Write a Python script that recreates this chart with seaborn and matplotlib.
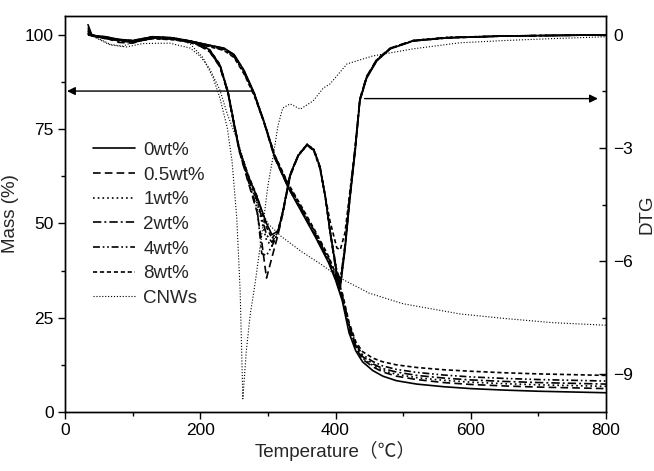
import matplotlib
matplotlib.use("Agg")
import matplotlib.pyplot as plt
from matplotlib.ticker import MultipleLocator
import seaborn as sns

# ---- data (temperature in deg C) ----
samples = ["0wt%", "0.5wt%", "1wt%", "2wt%", "4wt%", "8wt%", "CNWs"]

# TGA (mass %) of the composites
temp_tga = [34, 50, 70, 100, 130, 160, 190, 215, 235, 250, 265, 280, 295, 310, 330, 350,
            370, 390, 400, 410, 420, 430, 440, 455, 470, 490, 520, 560, 600, 650, 700, 750, 800]
mass_0 = [100.3, 99.6, 99.0, 98.3, 99.3, 99.0, 98.2, 97.2, 96.5, 94.8, 90.5, 84.5, 76.5, 67.5, 59.5, 53.0,
          46.5, 39.5, 35.0, 29.5, 21.0, 16.2, 13.3, 11.0, 9.5, 8.3, 7.4, 6.7, 6.2, 5.8, 5.5, 5.3, 5.1]
mass_05 = [100.2, 99.4, 98.7, 98.0, 99.1, 98.9, 98.1, 97.1, 96.3, 94.6, 90.3, 84.2, 76.3, 67.4, 59.6, 53.2,
           46.8, 39.8, 35.4, 30.0, 22.0, 17.0, 14.0, 12.0, 10.6, 9.5, 8.6, 7.8, 7.3, 6.9, 6.6, 6.4, 6.2]
mass_1 = [100.2, 99.5, 98.9, 98.4, 99.2, 99.0, 98.2, 97.2, 96.4, 94.7, 90.4, 84.4, 76.6, 67.8, 59.9, 53.5,
          47.0, 40.0, 35.6, 30.3, 22.5, 17.3, 14.3, 12.4, 11.0, 10.0, 9.1, 8.4, 7.9, 7.5, 7.2, 7.0, 6.8]
mass_2 = [100.1, 99.5, 98.8, 98.2, 99.2, 98.9, 98.1, 97.0, 96.2, 94.5, 90.2, 84.3, 76.7, 68.0, 60.1, 53.7,
          47.2, 40.3, 35.9, 30.6, 23.0, 17.6, 14.7, 12.8, 11.5, 10.6, 9.7, 9.0, 8.5, 8.1, 7.8, 7.6, 7.4]
mass_4 = [100.1, 99.4, 98.8, 98.3, 99.1, 98.8, 98.0, 96.9, 96.0, 94.2, 89.8, 84.0, 76.5, 68.0, 60.3, 54.0,
          47.6, 40.7, 36.3, 31.0, 23.3, 18.0, 15.2, 13.4, 12.2, 11.3, 10.5, 9.8, 9.3, 8.9, 8.6, 8.4, 8.2]
mass_8 = [100.0, 99.3, 98.7, 98.1, 99.0, 98.7, 97.9, 96.8, 95.9, 94.0, 89.6, 83.8, 76.4, 68.2, 60.6, 54.4,
          48.0, 41.2, 36.8, 31.6, 23.8, 18.6, 16.0, 14.3, 13.3, 12.5, 11.8, 11.2, 10.8, 10.4, 10.1, 9.9, 9.7]

# DTG of the composites
temp_dtg = [34, 40, 60, 80, 100, 130, 160, 185, 200, 214, 229, 241, 250, 258, 270, 284, 291, 298, 306,
            315, 322, 333, 345, 358, 368, 377, 385, 392, 402, 407, 414, 421, 429, 436, 446, 461, 481,
            515, 565, 650, 800]
dtg_0 = [0.27, -0.02, -0.05, -0.12, -0.15, -0.05, -0.08, -0.16, -0.25, -0.40, -0.80, -1.52, -2.35, -3.05,
         -3.70, -4.30, -4.65, -5.00, -5.30, -5.20, -4.70, -3.70, -3.20, -2.90, -3.05, -3.50, -4.30, -5.20,
         -6.35, -6.70, -5.70, -4.40, -3.10, -1.75, -1.15, -0.69, -0.37, -0.16, -0.08, -0.03, 0.00]
dtg_05 = [0.20, -0.03, -0.08, -0.20, -0.22, -0.06, -0.10, -0.20, -0.30, -0.45, -0.85, -1.55, -2.40, -3.10,
          -3.85, -4.70, -5.50, -6.45, -5.90, -5.30, -4.75, -3.75, -3.20, -2.92, -3.05, -3.50, -4.30, -5.25,
          -6.40, -6.60, -5.60, -4.30, -3.00, -1.70, -1.10, -0.65, -0.35, -0.15, -0.07, -0.03, 0.00]
dtg_1 = [0.15, -0.02, -0.06, -0.15, -0.18, -0.05, -0.09, -0.18, -0.28, -0.42, -0.82, -1.53, -2.38, -3.08,
         -3.78, -4.45, -4.95, -5.45, -5.60, -5.25, -4.72, -3.72, -3.18, -2.90, -3.03, -3.48, -4.28, -5.22,
         -6.38, -6.70, -5.65, -4.35, -3.05, -1.72, -1.12, -0.67, -0.36, -0.15, -0.07, -0.03, 0.00]
dtg_2 = [0.12, -0.02, -0.05, -0.14, -0.16, -0.05, -0.08, -0.17, -0.27, -0.41, -0.81, -1.52, -2.36, -3.06,
         -3.75, -4.40, -4.85, -5.30, -5.50, -5.22, -4.70, -3.70, -3.18, -2.92, -3.05, -3.50, -4.30, -5.20,
         -6.30, -6.60, -5.65, -4.35, -3.05, -1.74, -1.13, -0.68, -0.36, -0.16, -0.08, -0.03, 0.00]
dtg_4 = [0.10, -0.03, -0.07, -0.16, -0.18, -0.06, -0.09, -0.19, -0.29, -0.44, -0.83, -1.54, -2.40, -3.10,
         -3.82, -4.60, -5.80, -5.85, -5.60, -5.25, -4.72, -3.72, -3.20, -2.93, -3.06, -3.52, -4.32, -5.22,
         -6.25, -6.50, -5.60, -4.30, -3.02, -1.72, -1.12, -0.67, -0.36, -0.15, -0.07, -0.03, 0.00]
dtg_8 = [0.08, -0.02, -0.06, -0.13, -0.15, -0.05, -0.08, -0.17, -0.26, -0.40, -0.78, -1.50, -2.33, -3.03,
         -3.68, -4.28, -4.70, -5.10, -5.40, -5.18, -4.68, -3.70, -3.18, -2.92, -3.08, -3.55, -4.30, -4.95,
         -5.65, -5.70, -5.25, -4.20, -3.00, -1.72, -1.12, -0.67, -0.36, -0.16, -0.08, -0.03, 0.00]

# CNWs
temp_cnw_tga = [34, 50, 67, 91, 115, 155, 185, 200, 214, 229, 240, 255, 270, 285, 300, 320, 350,
                380, 407, 450, 500, 584, 650, 720, 800]
mass_cnw = [100.3, 98.8, 97.3, 96.8, 97.7, 97.8, 96.5, 94.3, 91.0, 85.4, 79.0, 72.0, 63.5, 55.5, 50.0,
            46.5, 42.5, 39.0, 35.5, 31.5, 28.7, 26.0, 24.8, 23.7, 23.0]
temp_cnw_dtg = [34, 50, 67, 85, 100, 130, 170, 185, 204, 219, 229, 240, 247, 254, 259, 263, 268, 274,
                281, 291, 300, 308, 315, 322, 333, 348, 367, 382, 392, 417, 455, 515, 584, 650, 720, 800]
dtg_cnw = [0.10, -0.10, -0.25, -0.30, -0.20, -0.10, -0.12, -0.24, -0.60, -1.14, -1.67, -2.47, -3.35,
           -4.86, -6.80, -9.65, -8.40, -7.40, -6.60, -5.30, -4.00, -3.20, -2.40, -1.94, -1.83, -1.97,
           -1.75, -1.41, -1.30, -0.77, -0.56, -0.37, -0.21, -0.15, -0.10, -0.05]

tga_series = [mass_0, mass_05, mass_1, mass_2, mass_4, mass_8]
dtg_series = [dtg_0, dtg_05, dtg_1, dtg_2, dtg_4, dtg_8]

# line styles (on/off in points)
styles = [
    "-",
    (0, (5.5, 3.0)),
    (0, (1.2, 2.2)),
    (0, (6.0, 2.2, 1.4, 2.2)),
    (0, (5.0, 2.0, 1.2, 2.0, 1.2, 2.0)),
    (0, (3.0, 2.0)),
    (0, (0.8, 1.3)),
]

sns.set_style("ticks")
plt.rcParams["font.family"] = ["Liberation Sans", "Noto Sans CJK SC", "DejaVu Sans"]
plt.rcParams["lines.scale_dashes"] = False

fig = plt.figure(figsize=(6.54, 4.71), dpi=100)
ax = fig.add_axes([0.0994, 0.1253, 0.8272, 0.8407])
ax2 = ax.twinx()

for i, m in enumerate(tga_series):
    sns.lineplot(x=temp_tga, y=m, ax=ax, color="black", lw=1.2, legend=False, sort=False)
    ax.lines[-1].set_linestyle(styles[i])
    ax.lines[-1].set_label(samples[i])
sns.lineplot(x=temp_cnw_tga, y=mass_cnw, ax=ax, color="black", lw=0.8, legend=False, sort=False)
ax.lines[-1].set_linestyle(styles[6])
ax.lines[-1].set_label(samples[6])

for i, d in enumerate(dtg_series):
    sns.lineplot(x=temp_dtg, y=d, ax=ax2, color="black", lw=1.2, legend=False, sort=False)
    ax2.lines[-1].set_linestyle(styles[i])
sns.lineplot(x=temp_cnw_dtg, y=dtg_cnw, ax=ax2, color="black", lw=0.8, legend=False, sort=False)
ax2.lines[-1].set_linestyle(styles[6])

ax.set_xlim(0, 800)
ax.set_ylim(0, 105)
ax2.set_ylim(-10, 0.5)

ax.xaxis.set_major_locator(MultipleLocator(200))
ax.xaxis.set_minor_locator(MultipleLocator(100))
ax.yaxis.set_major_locator(MultipleLocator(25))
ax.yaxis.set_minor_locator(MultipleLocator(12.5))
ax2.yaxis.set_major_locator(MultipleLocator(3))
ax2.yaxis.set_minor_locator(MultipleLocator(1.5))

ax.tick_params(which="both", direction="out", top=False, right=False, width=1, colors="black",
               labelsize=12.5, pad=3)
ax.tick_params(which="major", length=5)
ax.tick_params(which="minor", length=3)
ax2.tick_params(which="both", direction="in", width=1, colors="black", labelsize=12.5, pad=5)
ax2.tick_params(which="major", length=5)
ax2.tick_params(which="minor", length=3)

for a in (ax, ax2):
    for s in a.spines.values():
        s.set_color("black")
        s.set_linewidth(1.0)

ax.set_xlabel("Temperature（℃）", fontsize=13.5, labelpad=2)
ax.set_ylabel("Mass (%)", fontsize=13.5, labelpad=4)
ax2.set_ylabel("DTG", fontsize=13.5, labelpad=4)

# arrows pointing to the axis each curve family belongs to
ax.annotate("", xy=(3, 85.1), xytext=(278, 85.1),
            arrowprops=dict(arrowstyle="-|>", color="black", lw=1.0, mutation_scale=12,
                            shrinkA=0, shrinkB=0))
ax2.annotate("", xy=(788, -1.69), xytext=(443, -1.69),
             arrowprops=dict(arrowstyle="-|>", color="black", lw=1.0, mutation_scale=12,
                             shrinkA=0, shrinkB=0))

ax.legend(loc="upper left", bbox_to_anchor=(0.052, 0.682), frameon=False, fontsize=13.5,
          handlelength=2.24, handletextpad=0.43, labelspacing=0.4, borderpad=0, borderaxespad=0)

fig.savefig("out.png", dpi=100, facecolor="white")
